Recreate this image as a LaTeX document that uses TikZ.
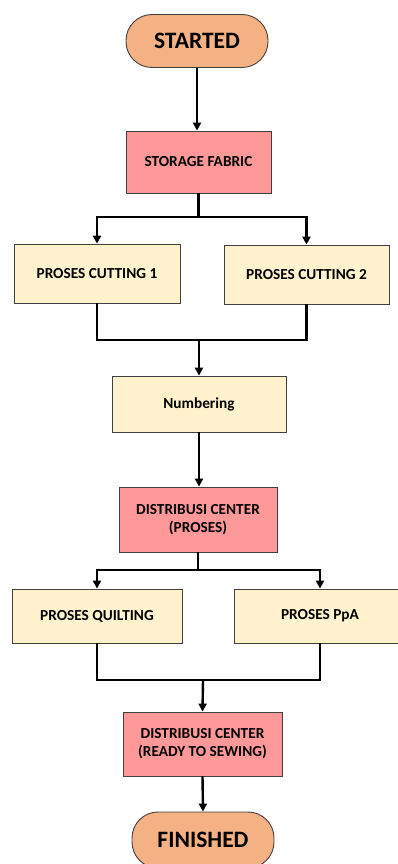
\documentclass[tikz,border=0pt]{standalone}
\usepackage{fontspec}
\setmainfont{Carlito}
\usetikzlibrary{positioning,arrows.meta}

\definecolor{termfill}{HTML}{F4B183}
\definecolor{redfill}{HTML}{FF9999}
\definecolor{yelfill}{HTML}{FFF2CC}
\definecolor{boxline}{HTML}{404040}

\tikzset{
  term/.style={rectangle,rounded corners=26pt,draw=boxline,line width=0.9pt,fill=termfill,
    font=\bfseries\fontsize{23.5}{26}\selectfont},
  redbox/.style={rectangle,draw=boxline,line width=0.8pt,fill=redfill,align=center,
    font=\bfseries\fontsize{15.3}{18}\selectfont},
  yelbox/.style={rectangle,draw=boxline,line width=0.8pt,fill=yelfill,align=center,
    font=\bfseries\fontsize{15.3}{18}\selectfont},
  wire/.style={line width=2.4pt,line join=miter},
  link/.style={wire,-{Triangle[length=8pt,width=8pt]}}
}

\begin{document}
\begin{tikzpicture}[x=1pt,y=-1pt]
\useasboundingbox (0,0) rectangle (397,864);

% nodes
\node (start) [term,minimum width=142pt,minimum height=53pt] at (197,41) {STARTED};
\node (storage) [redbox,minimum width=145pt,minimum height=62pt] at (198.5,162) {STORAGE FABRIC};
\node (cut1) [yelbox,minimum width=166pt,minimum height=59pt] at (97,273.5) {PROSES CUTTING 1};
\node (cut2) [yelbox,minimum width=165pt,minimum height=59pt] at (306.5,274.5) {PROSES CUTTING 2};
\node (numbering) [yelbox,minimum width=174pt,minimum height=56pt] at (199,404) {Numbering};
\node (dist1) [redbox,minimum width=158pt,minimum height=65pt] at (198,519.5) {DISTRIBUSI CENTER\\(PROSES)};
\node (quilt) [yelbox,minimum width=170pt,minimum height=54pt] at (97,616) {PROSES QUILTING};
\node (ppa) [yelbox,minimum width=172pt,minimum height=54pt] at (320,616) {PROSES PpA};
\node (dist2) [redbox,minimum width=159pt,minimum height=64pt] at (202.5,744) {DISTRIBUSI CENTER\\(READY TO SEWING)};
\node (finish) [term,minimum width=142pt,minimum height=56pt] at (203,840) {FINISHED};

% junction points
\coordinate (split1) at (198.5,217);
\coordinate (merge1) at (199,340);
\coordinate (split2) at (198,570);
\coordinate (merge2) at (203,680);

% connectors
\draw[link] (start.south) -- (start.south |- storage.north);
\draw[wire] (storage.south) -- (split1);
\draw[link] (split1) -| (cut1.north);
\draw[link] (split1) -| (cut2.north);
\draw[wire] (cut1.south) |- (merge1);
\draw[wire] (cut2.south) |- (merge1);
\draw[link] (merge1) -- (numbering.north);
\draw[link] (numbering.south) -- (numbering.south |- dist1.north);
\draw[wire] (dist1.south) -- (split2);
\draw[link] (split2) -| (quilt.north);
\draw[link] (split2) -| (ppa.north);
\draw[wire] (quilt.south) |- (merge2);
\draw[wire] (ppa.south) |- (merge2);
\draw[link] (merge2) -- (dist2.north);
\draw[link] (dist2.south) -- (finish.north);
\end{tikzpicture}
\end{document}
